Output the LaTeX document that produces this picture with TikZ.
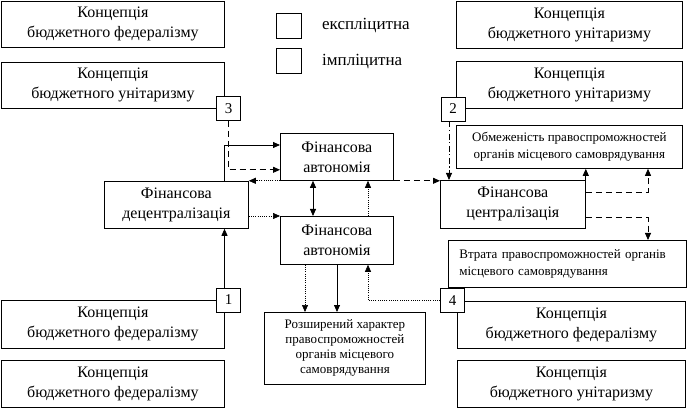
\documentclass[tikz,border=0pt]{standalone}
\usepackage{fontspec}
\setmainfont{Liberation Serif}
\usetikzlibrary{arrows.meta}
\tikzset{
  box/.style={draw, line width=0.8pt, align=center, inner sep=2pt, anchor=north west,
    font=\fontsize{16}{20}\selectfont},
  smalltext/.style={font=\fontsize{13}{16.5}\selectfont},
  numbox/.style={draw, line width=0.8pt, fill=white, minimum size=24pt, inner sep=0pt,
    font=\fontsize{15}{15}\selectfont},
  legsq/.style={draw, line width=0.8pt, minimum size=25pt, inner sep=0pt, anchor=north west},
  legtext/.style={anchor=west, inner sep=0pt, font=\fontsize{17}{17}\selectfont},
  arr/.style={-{Triangle[length=7pt,width=6pt]}, line width=0.8pt},
  dualarr/.style={{Triangle[length=7pt,width=6pt]}-{Triangle[length=7pt,width=6pt]}, line width=0.8pt},
  dashline/.style={dash pattern=on 6pt off 4pt},
  dotline/.style={dash pattern=on 1pt off 1.2pt, line width=0.6pt},
  dashdotline/.style={dash pattern=on 6pt off 2.5pt on 1.2pt off 2.5pt}
}
\begin{document}
\begin{tikzpicture}[x=1pt,y=-1pt]
\useasboundingbox (0,0) rectangle (689,409);
% left column
\node[box, minimum width=223pt, minimum height=46pt] (L1) at (1,1) {Концепція\\бюджетного федералізму};
\node[box, minimum width=223pt, minimum height=46pt] (L2) at (1,62) {Концепція\\бюджетного унітаризму};
\node[box, minimum width=223pt, minimum height=48pt] (L3) at (1,300) {Концепція\\бюджетного федералізму};
\node[box, minimum width=223pt, minimum height=47pt] (L4) at (1,360) {Концепція\\бюджетного федералізму};
% right column
\node[box, minimum width=226pt, minimum height=47pt] (R1) at (456,1) {Концепція\\бюджетного унітаризму};
\node[box, minimum width=226pt, minimum height=47pt] (R2) at (456,61) {Концепція\\бюджетного унітаризму};
\node[box, smalltext, minimum width=226pt, minimum height=43pt] (Obm) at (456,125) {Обмеженість правоспроможностей\\органів місцевого самоврядування};
\node[box, minimum width=145pt, minimum height=48pt] (FC) at (440,180) {Фінансова\\централізація};
\node[box, smalltext, align=left, inner xsep=11pt, text width=216pt, minimum width=238pt, minimum height=47pt] (Vtr) at (448,240) {Втрата правоспроможностей органів\\місцевого самоврядування};
\node[box, minimum width=228pt, minimum height=47pt] (R3) at (457,301) {Концепція\\бюджетного федералізму};
\node[box, minimum width=228pt, minimum height=47pt] (R4) at (457,360) {Концепція\\бюджетного унітаризму};
% center
\node[box, minimum width=113pt, minimum height=47pt] (FA1) at (280,133) {Фінансова\\автономія};
\node[box, minimum width=144pt, minimum height=47pt] (FD) at (104,181) {Фінансова\\децентралізація};
\node[box, minimum width=113pt, minimum height=48pt] (FA2) at (280,216) {Фінансова\\автономія};
\node[box, font=\fontsize{13}{15}\selectfont, minimum width=161pt, minimum height=72pt] (Roz) at (264,312) {Розширений характер\\правоспроможностей\\органів місцевого\\самоврядування};
% legend
\node[legsq] (sq1) at (276,13) {};
\node[legsq] (sq2) at (276,48) {};
\node[legtext] (t1) at (322,26) {експліцитна};
\node[legtext] (t2) at (322,62) {імпліцитна};
% number boxes
\node[numbox] (n3) at (228.5,108.5) {3};
\node[numbox] (n2) at (453,109) {2};
\node[numbox] (n1) at (228.5,300) {1};
\node[numbox] (n4) at (452.5,300.5) {4};
% connectors
\draw[arr, dashline] (n3.south) |- ([yshift=11pt]FA1.south west);
\draw[arr] ([xshift=-24pt]FD.north east) |- ([yshift=-12pt]FA1.north west);
\draw[arr, dotline] (FA1.south west) -- (FA1.south west -| FD.east);
\draw[arr, dotline] (FD.east |- FA2.north west) -- (FA2.north west);
\draw[dualarr] ([xshift=33pt]FA1.south west) -- ([xshift=33pt]FA2.north west);
\draw[arr, dotline] ([xshift=88pt]FA2.north west) -- ([xshift=88pt]FA1.south west);
\draw[arr, dashline] (FA1.south east) -- (FA1.south east -| FC.west);
\draw[arr, dashdotline] ([xshift=-4pt]n2.south) -- ([xshift=-4pt]n2.south |- FC.north);
\draw[arr] (FC.north east) -- (FC.north east |- Obm.south);
\draw[arr, dashline] ([yshift=-12pt]FC.north east) -| ([xshift=192pt]Obm.south west);
\draw[arr, dashline] ([yshift=11pt]FC.south east) -| ([xshift=200pt]Vtr.north west);
\draw[arr] ([xshift=-4pt]n1.north) -- ([xshift=-4pt]n1.north |- FD.south);
\draw[arr, dotline] ([xshift=25pt]FA2.south west) -- ([xshift=25pt]FA2.south west |- Roz.north);
\draw[arr] ([xshift=57pt]FA2.south west) -- ([xshift=57pt]FA2.south west |- Roz.north);
\draw[arr, dotline] (n4.west) -| ([xshift=88pt]FA2.south west);
\end{tikzpicture}
\end{document}
